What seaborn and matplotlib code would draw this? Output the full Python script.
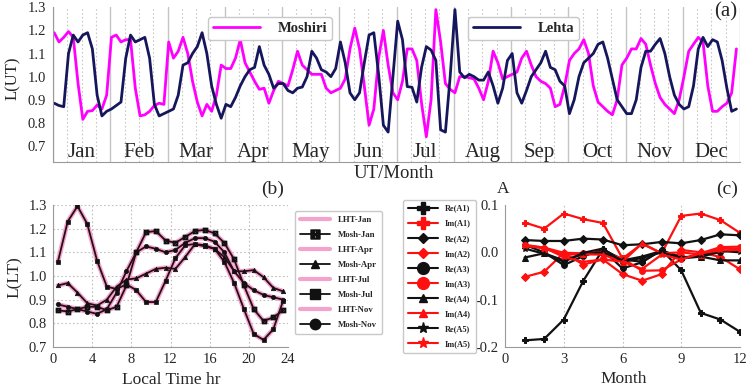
import numpy as np
import pandas as pd
import matplotlib
matplotlib.use("Agg")
import matplotlib.pyplot as plt
import matplotlib.transforms as mtransforms
from matplotlib.lines import Line2D
import seaborn as sns

# ---------------- data: panel (a)  (2-hourly UT samples per month) ----------------
months = ["Jan", "Feb", "Mar", "Apr", "May", "Jun", "Jul", "Aug", "Sep", "Oct", "Nov", "Dec"]
ut_step_hours = 2

mosh_jan = [1.19, 1.15, 1.17, 1.195, 1.17, 0.97, 0.815, 0.85, 0.853, 0.877, 0.86, 0.92]
mosh_feb = [1.17, 1.18, 1.15, 1.16, 1.16, 0.95, 0.83, 0.835, 0.85, 0.875, 0.885, 0.88]
mosh_mar = [1.15, 1.08, 1.11, 1.17, 1.10, 0.98, 0.89, 0.83, 0.88, 0.85, 0.92, 1.05]
mosh_apr = [1.035, 1.035, 1.08, 1.16, 1.06, 1.02, 0.98, 0.945, 0.95, 0.885, 0.94, 0.98]
mosh_may = [0.97, 0.96, 1.03, 1.11, 1.05, 1.03, 1.01, 1.01, 1.01, 0.95, 0.93, 0.94]
mosh_jun = [0.95, 0.99, 1.12, 1.21, 1.12, 0.96, 0.79, 0.86, 1.08, 1.20, 1.05, 0.93]
mosh_jul = [0.90, 0.98, 1.12, 1.12, 1.07, 0.885, 0.74, 0.90, 1.29, 1.15, 0.97, 0.945]
mosh_aug = [0.93, 1.00, 1.00, 0.995, 0.99, 0.95, 0.90, 0.98, 1.11, 1.06, 0.99, 1.00]
mosh_sep = [1.01, 1.02, 1.08, 1.11, 1.05, 1.00, 0.98, 0.97, 0.95, 0.87, 0.88, 0.96]
mosh_oct = [1.07, 1.10, 1.12, 1.16, 1.10, 0.96, 0.89, 0.87, 0.85, 0.835, 0.90, 1.05]
mosh_nov = [1.08, 1.12, 1.12, 1.165, 1.14, 1.05, 0.97, 0.91, 0.88, 0.86, 0.84, 0.90]
mosh_dec = [1.00, 1.11, 1.14, 1.17, 1.15, 0.96, 0.85, 0.85, 0.87, 0.885, 0.93, 1.12]

lehta_jan = [0.885, 0.875, 0.87, 1.10, 1.18, 1.15, 1.18, 1.19, 1.12, 0.92, 0.83, 0.85]
lehta_feb = [0.86, 0.875, 0.89, 1.08, 1.18, 1.15, 1.16, 1.17, 1.08, 0.88, 0.83, 0.84]
lehta_mar = [0.85, 0.86, 0.92, 1.05, 1.06, 1.10, 1.13, 1.19, 1.10, 0.96, 0.88, 0.82]
lehta_apr = [0.88, 0.87, 0.91, 0.96, 1.00, 1.03, 1.04, 1.13, 1.05, 1.01, 0.95, 0.97]
lehta_may = [0.97, 0.94, 0.93, 0.95, 0.955, 1.00, 1.11, 1.08, 1.03, 1.02, 1.00, 1.035]
lehta_jun = [1.15, 1.06, 0.93, 0.90, 0.93, 1.06, 1.18, 1.19, 1.01, 0.79, 0.76, 1.00]
lehta_jul = [1.24, 1.16, 0.957, 0.954, 0.89, 1.04, 1.13, 1.115, 1.07, 0.77, 0.76, 1.00]
lehta_aug = [1.29, 1.02, 0.995, 1.01, 1.00, 0.985, 0.985, 1.02, 0.96, 0.885, 0.95, 1.07]
lehta_sep = [1.10, 0.93, 0.885, 0.94, 1.00, 1.03, 1.06, 1.11, 1.04, 1.03, 0.98, 0.96]
lehta_oct = [0.84, 0.90, 1.00, 1.06, 1.08, 1.10, 1.14, 1.15, 1.08, 0.99, 0.90, 0.87]
lehta_nov = [0.84, 0.84, 0.90, 1.04, 1.11, 1.11, 1.14, 1.165, 1.10, 1.00, 0.92, 0.88]
lehta_dec = [0.86, 0.87, 0.96, 1.12, 1.17, 1.13, 1.16, 1.15, 1.07, 0.95, 0.85, 0.86]

mosh_all = [mosh_jan, mosh_feb, mosh_mar, mosh_apr, mosh_may, mosh_jun,
            mosh_jul, mosh_aug, mosh_sep, mosh_oct, mosh_nov, mosh_dec]
lehta_all = [lehta_jan, lehta_feb, lehta_mar, lehta_apr, lehta_may, lehta_jun,
             lehta_jul, lehta_aug, lehta_sep, lehta_oct, lehta_nov, lehta_dec]

# ---------------- data: panel (b)  (local time, half-hour centres) ----------------
lt_hours = np.arange(24) + 0.5
mosh_lt_jan = [0.855, 0.85, 0.86, 0.87, 0.87, 0.855, 0.87, 0.96, 1.10, 1.185, 1.19, 1.15,
               1.14, 1.165, 1.19, 1.195, 1.18, 1.14, 1.07, 0.96, 0.86, 0.81, 0.825, 0.855]
mosh_lt_apr = [0.96, 0.97, 0.93, 0.885, 0.875, 0.90, 0.955, 0.985, 0.99, 1.01, 1.03, 1.035,
               1.03, 1.08, 1.135, 1.125, 1.115, 1.08, 1.02, 1.02, 1.025, 0.995, 0.95, 0.935]
mosh_lt_jul = [1.06, 1.23, 1.295, 1.22, 1.065, 0.955, 0.945, 0.965, 0.94, 0.89, 0.89, 0.98,
               1.075, 1.13, 1.135, 1.13, 1.115, 1.06, 0.97, 0.86, 0.755, 0.73, 0.775, 0.895]
mosh_lt_nov = [0.88, 0.87, 0.86, 0.85, 0.84, 0.86, 0.93, 1.02, 1.10, 1.125, 1.115, 1.10,
               1.11, 1.14, 1.16, 1.16, 1.145, 1.10, 1.02, 0.97, 0.94, 0.92, 0.91, 0.90]
# Lehta curves in local time lie on top of the Moshiri curves
lht_lt_jan = [0.855, 0.85, 0.86, 0.87, 0.87, 0.855, 0.87, 0.96, 1.10, 1.185, 1.19, 1.15,
              1.14, 1.165, 1.19, 1.195, 1.18, 1.14, 1.07, 0.96, 0.86, 0.81, 0.825, 0.855]
lht_lt_apr = [0.96, 0.97, 0.93, 0.885, 0.875, 0.90, 0.955, 0.985, 0.99, 1.01, 1.03, 1.035,
              1.03, 1.08, 1.135, 1.125, 1.115, 1.08, 1.02, 1.02, 1.025, 0.995, 0.95, 0.935]
lht_lt_jul = [1.06, 1.23, 1.295, 1.22, 1.065, 0.955, 0.945, 0.965, 0.94, 0.89, 0.89, 0.98,
              1.075, 1.13, 1.135, 1.13, 1.115, 1.06, 0.97, 0.86, 0.755, 0.73, 0.775, 0.895]
lht_lt_nov = [0.88, 0.87, 0.86, 0.85, 0.84, 0.86, 0.93, 1.02, 1.10, 1.125, 1.115, 1.10,
              1.11, 1.14, 1.16, 1.16, 1.145, 1.10, 1.02, 0.97, 0.94, 0.92, 0.91, 0.90]

# ---------------- data: panel (c)  (monthly harmonic amplitudes) ----------------
month_num = np.arange(1, 13)
re_a1 = [-0.186, -0.183, -0.142, -0.06, 0.006, -0.015, -0.02, 0.005, -0.038, -0.128, -0.142, -0.168]
im_a1 = [0.063, 0.05, 0.082, 0.07, 0.062, -0.013, 0.018, -0.002, 0.077, 0.082, 0.068, 0.041]
re_a2 = [0.026, 0.024, 0.024, 0.029, 0.027, 0.015, 0.017, 0.022, 0.019, 0.026, 0.038, 0.036]
im_a2 = [-0.052, -0.041, -0.001, -0.026, -0.015, -0.046, -0.06, -0.046, 0.005, 0.0, -0.01, -0.036]
re_a3 = [0.016, 0.0, -0.027, -0.008, 0.005, -0.034, -0.021, 0.005, -0.013, -0.009, 0.001, 0.006]
im_a3 = [0.016, 0.01, -0.001, -0.002, 0.0, -0.013, -0.039, -0.038, -0.015, -0.002, 0.011, 0.012]
re_a4 = [-0.011, -0.002, -0.017, -0.004, 0.0, -0.017, -0.009, 0.003, -0.01, -0.009, -0.017, -0.017]
im_a4 = [0.015, 0.008, -0.005, -0.004, -0.005, -0.02, 0.019, -0.002, 0.0, -0.005, 0.008, 0.008]
re_a5 = [0.008, -0.003, -0.02, -0.001, 0.008, -0.02, -0.012, 0.0, -0.012, -0.006, 0.003, 0.0]
im_a5 = [0.014, 0.01, -0.01, -0.02, -0.015, -0.02, -0.035, -0.005, -0.015, -0.002, 0.004, 0.005]

# ---------------- style ----------------
sns.set_style("white")
plt.rcParams['font.family'] = ['Liberation Serif', 'DejaVu Serif']
plt.rcParams['axes.unicode_minus'] = False

W, H = 748, 388
fig = plt.figure(figsize=(W / 100, H / 100), dpi=100)


def fbox(l, t, r, b):
    return [l / W, 1 - b / H, (r - l) / W, (b - t) / H]


MAG = "#ff00ff"
NAVY = "#16165c"
SPINE = "#9a9a9a"

# ================= panel (a) =================
ax_a = fig.add_axes(fbox(53, 7.3, 740, 161.7))
n_per_month = len(mosh_jan)
ut_x = [m * 24 + i * ut_step_hours + 0.5 for m in range(12) for i in range(n_per_month)]
df_a = pd.DataFrame({
    "x": ut_x * 2,
    "L": sum(mosh_all, []) + sum(lehta_all, []),
    "station": ["Moshiri"] * len(ut_x) + ["Lehta"] * len(ut_x),
})
sns.lineplot(data=df_a[df_a.station == "Moshiri"], x="x", y="L", color=MAG, lw=2.0,
             estimator=None, ax=ax_a, legend=False)
sns.lineplot(data=df_a[df_a.station == "Lehta"], x="x", y="L", color=NAVY, lw=2.0,
             estimator=None, ax=ax_a, legend=False)
ax_a.set_xlim(0, 288)
ax_a.set_ylim(0.632, 1.3)
for m in range(13):
    ax_a.axvline(m * 24, color="#c4c4c4", lw=1.0, zorder=0)
for m in range(12):
    for q in (6, 12, 18):
        ax_a.axvline(m * 24 + q, color="#c8c8c8", lw=0.8, ls=(0, (1.5, 2)), zorder=0)
trans_a = mtransforms.blended_transform_factory(ax_a.transData, ax_a.transAxes)
for m, name in enumerate(months):
    ax_a.text(m * 24 + 12, 0.03, name, transform=trans_a, ha="center", va="baseline",
              fontsize=15)
ax_a.set_yticks([0.7, 0.8, 0.9, 1.0, 1.1, 1.2, 1.3])
ax_a.set_yticklabels(["0.7", "0.8", "0.9", "1.0", "1.1", "1.2", "1.3"])
ax_a.set_yticks(np.arange(0.65, 1.3, 0.1), minor=True)
ax_a.set_xticks(np.arange(0, 289, 24))
ax_a.set_xticklabels([])
ax_a.set_xticks(np.arange(0, 289, 6), minor=True)
ax_a.tick_params(axis="both", which="both", direction="out", length=3, width=0.7,
                 color=SPINE, labelsize=10.5, pad=2)
ax_a.set_xlabel("")
ax_a.set_ylabel("")
for s in ("top", "right"):
    ax_a.spines[s].set_visible(False)
for s in ("left", "bottom"):
    ax_a.spines[s].set_color(SPINE)
    ax_a.spines[s].set_linewidth(0.8)

leg_kw = dict(frameon=True, fancybox=True, edgecolor="#c8c8c8", framealpha=1,
              prop={"weight": "bold", "size": 10.5}, handlelength=3.2, handletextpad=1.2,
              borderpad=0.35, loc="upper left", bbox_transform=fig.transFigure, borderaxespad=0)
leg1 = ax_a.legend(handles=[Line2D([], [], color=MAG, lw=2)], labels=["Moshiri"],
                   bbox_to_anchor=(208 / W, 1 - 17 / H), **leg_kw)
ax_a.add_artist(leg1)
ax_a.legend(handles=[Line2D([], [], color=NAVY, lw=2)], labels=["Lehta"],
            bbox_to_anchor=(468 / W, 1 - 17 / H), **leg_kw)

fig.text(13 / W, 1 - 78 / H, "L(UT)", rotation=90, ha="center", va="center", fontsize=12)
fig.text(394 / W, 1 - 173 / H, "UT/Month", ha="center", va="center", fontsize=13.5)
fig.text(726 / W, 1 - 12 / H, "(a)", ha="center", va="center", fontsize=15)

# ================= panel (b) =================
ax_b = fig.add_axes(fbox(53, 205, 288, 347))
PINK = "#f4a3cc"
lt_pairs = [(lht_lt_jan, mosh_lt_jan, r"$\boxtimes$", 3.6),
            (lht_lt_apr, mosh_lt_apr, "^", 3.2),
            (lht_lt_jul, mosh_lt_jul, "s", 2.6),
            (lht_lt_nov, mosh_lt_nov, "o", 3.0)]
for lht, mosh, mk, ms in lt_pairs:
    sns.lineplot(x=lt_hours, y=lht, color=PINK, lw=3.4, ax=ax_b, estimator=None,
                 legend=False, solid_capstyle="round")
for lht, mosh, mk, ms in lt_pairs:
    sns.lineplot(x=lt_hours, y=mosh, color="#2a0c18", lw=1.3, ax=ax_b, estimator=None,
                 legend=False, marker=mk, markersize=ms, markeredgecolor="#111111",
                 markerfacecolor="#111111", markeredgewidth=0.5)
ax_b.set_xlim(0, 24)
ax_b.set_ylim(0.7, 1.3)
ax_b.set_xticks([0, 4, 8, 12, 16, 20, 24])
ax_b.set_yticks([0.7, 0.8, 0.9, 1.0, 1.1, 1.2, 1.3])
ax_b.set_yticklabels(["0.7", "0.8", "0.9", "1.0", "1.1", "1.2", "1.3"])
ax_b.grid(True, ls=(0, (1.5, 2)), color="#c0c0c0", lw=0.8)
ax_b.tick_params(axis="both", direction="out", length=2.5, width=0.7, color=SPINE,
                 labelsize=10.5, pad=2)
ax_b.set_xlabel("")
ax_b.set_ylabel("")
for s in ("top", "right"):
    ax_b.spines[s].set_visible(False)
for s in ("left", "bottom"):
    ax_b.spines[s].set_color(SPINE)
    ax_b.spines[s].set_linewidth(0.8)

leg_b_handles, leg_b_labels = [], []
leg_b_markers = [(r"$\boxtimes$", 6.5), ("^", 6), ("s", 7.5), ("o", 7.5)]
for (name, (mk, ms)) in zip(["Jan", "Apr", "Jul", "Nov"], leg_b_markers):
    leg_b_handles.append(Line2D([], [], color=PINK, lw=3.0))
    leg_b_labels.append("LHT-" + name)
    leg_b_handles.append(Line2D([], [], color="#111111", lw=1.3, marker=mk, markersize=ms,
                                markerfacecolor="#111111", markeredgecolor="#111111"))
    leg_b_labels.append("Mosh-" + name)
ax_b.legend(handles=leg_b_handles, labels=leg_b_labels, loc="upper left",
            bbox_to_anchor=(295 / W, 1 - 211 / H), bbox_transform=fig.transFigure,
            borderaxespad=0, frameon=True, fancybox=True, edgecolor="#c8c8c8", framealpha=1,
            prop={"weight": "bold", "size": 6.3}, handlelength=3.4, handletextpad=0.9,
            labelspacing=0.78, borderpad=0.6)

fig.text(15 / W, 1 - 277 / H, "L(LT)", rotation=90, ha="center", va="center", fontsize=12.5)
fig.text(171 / W, 1 - 380 / H, "Local Time hr", ha="center", va="center", fontsize=12.5)
fig.text(273 / W, 1 - 189 / H, "(b)", ha="center", va="center", fontsize=14)

# ================= panel (c) =================
ax_c = fig.add_axes(fbox(505, 205, 740, 347))
harmonics = [
    ("Re(A1)", re_a1, "black", "P"), ("Im(A1)", im_a1, "red", "P"),
    ("Re(A2)", re_a2, "black", "D"), ("Im(A2)", im_a2, "red", "D"),
    ("Re(A3)", re_a3, "black", "o"), ("Im(A3)", im_a3, "red", "o"),
    ("Re(A4)", re_a4, "black", "^"), ("Im(A4)", im_a4, "red", "^"),
    ("Re(A5)", re_a5, "black", "*"), ("Im(A5)", im_a5, "red", "*"),
]
RED = "#ff1010"
for label, vals, col, mk in harmonics:
    c = RED if col == "red" else "#111111"
    sns.lineplot(x=month_num, y=vals, color=c, lw=1.6, marker=mk, markersize=4.2,
                 markeredgecolor=c, markerfacecolor=c, ax=ax_c, estimator=None, legend=False)
ax_c.set_xlim(0, 12)
ax_c.set_ylim(-0.2, 0.1)
ax_c.set_xticks([0, 3, 6, 9, 12])
ax_c.set_yticks([-0.2, -0.1, 0.0, 0.1])
ax_c.set_yticklabels(["-0.2", "-0.1", "0.0", "0.1"])
ax_c.xaxis.grid(True, ls=(0, (1.5, 2)), color="#c0c0c0", lw=0.8)
ax_c.yaxis.grid(False)
ax_c.tick_params(axis="both", direction="out", length=2.5, width=0.7, color=SPINE,
                 labelsize=10.5, pad=2)
ax_c.set_xlabel("")
ax_c.set_ylabel("")
for s in ("top", "right"):
    ax_c.spines[s].set_visible(False)
for s in ("left", "bottom"):
    ax_c.spines[s].set_color(SPINE)
    ax_c.spines[s].set_linewidth(0.8)

leg_c_sizes = {"P": 8, "D": 5.5, "o": 8.5, "^": 6, "*": 8}
leg_c_handles = []
for label, vals, col, mk in harmonics:
    c = RED if col == "red" else "#111111"
    leg_c_handles.append(Line2D([], [], color=c, lw=1.5, marker=mk, markersize=leg_c_sizes[mk],
                                markerfacecolor=c, markeredgecolor=c))
ax_c.legend(handles=leg_c_handles, labels=[h[0] for h in harmonics], loc="upper left",
            bbox_to_anchor=(403 / W, 1 - 200 / H), bbox_transform=fig.transFigure,
            borderaxespad=0, frameon=True, fancybox=True, edgecolor="#c8c8c8", framealpha=1,
            prop={"weight": "bold", "size": 6.0}, handlelength=3.6, handletextpad=0.9,
            labelspacing=0.85, borderpad=0.55)

fig.text(503 / W, 1 - 189 / H, "A", ha="center", va="center", fontsize=12.5)
fig.text(727 / W, 1 - 189 / H, "(c)", ha="center", va="center", fontsize=14)
fig.text(624 / W, 1 - 379 / H, "Month", ha="center", va="center", fontsize=12.5)

fig.savefig("out.png", dpi=100)
